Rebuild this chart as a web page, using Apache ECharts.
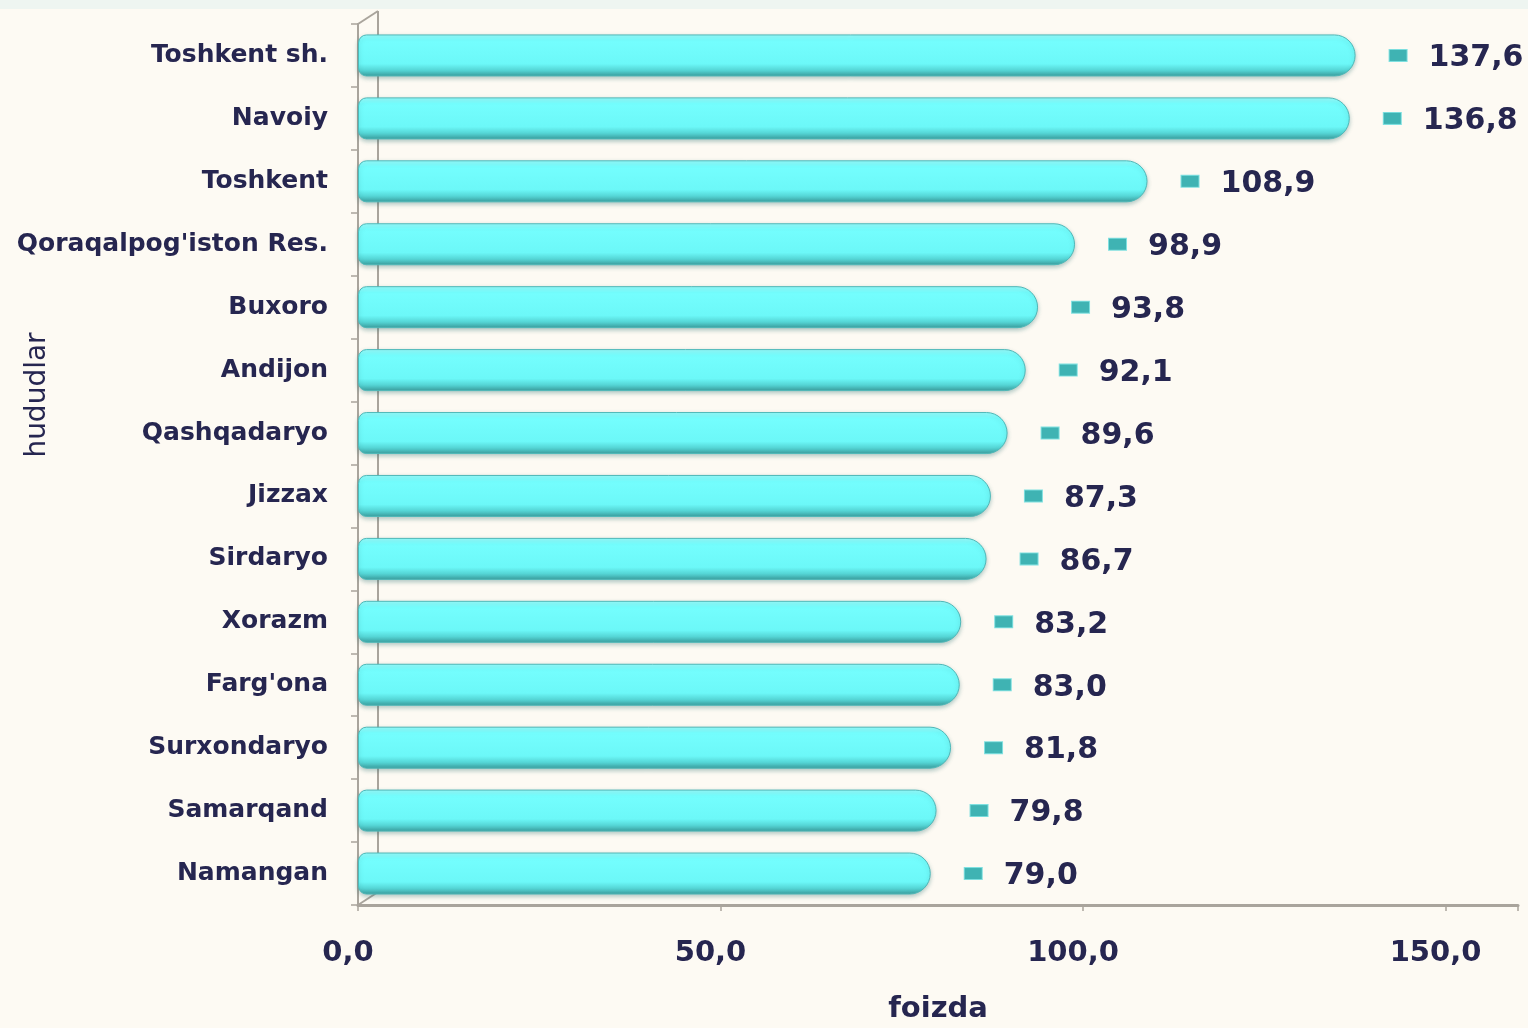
<!DOCTYPE html>
<html>
<head>
<meta charset="utf-8">
<script src="https://cdn.jsdelivr.net/npm/echarts@6/dist/echarts.min.js"></script>
<style>
html,body{margin:0;padding:0;background:#fdfaf3;}
#c{width:1528px;height:1028px;}
</style>
</head>
<body>
<div id="c"></div>
<script>
const categories = ["Toshkent sh.", "Navoiy", "Toshkent", "Qoraqalpog'iston Res.", "Buxoro", "Andijon", "Qashqadaryo", "Jizzax", "Sirdaryo", "Xorazm", "Farg'ona", "Surxondaryo", "Samarqand", "Namangan"];
const values = [137.6, 136.8, 108.9, 98.9, 93.8, 92.1, 89.6, 87.3, 86.7, 83.2, 83.0, 81.8, 79.8, 79.0];
const xTicks = [0, 50, 100, 150];
const xAxisName = "foizda";
const yAxisName = "hududlar";

const fmt = v => v.toFixed(1).replace('.', ',');
const navy = '#262650';
const axisGray = '#a9a49c';
const GRID_TOP = 24, GRID_BOTTOM = 123, H = 1028;

const chart = echarts.init(document.getElementById('c'));
chart.setOption({
  backgroundColor: '#fdfaf3',
  animation: false,
  grid: { left: 358, right: 10, top: GRID_TOP, bottom: GRID_BOTTOM, containLabel: false, outerBoundsMode: 'none' },
  xAxis: {
    type: 'value', min: 0, max: 160, interval: 50,
    name: xAxisName, nameLocation: 'middle', nameGap: 90,
    nameTextStyle: { fontFamily: 'DejaVu Sans', fontWeight: 'bold', fontSize: 29, color: navy },
    axisLine: { show: true, lineStyle: { color: axisGray, width: 3 } },
    axisTick: { show: true, length: 6, lineStyle: { color: axisGray, width: 1.5 } },
    splitLine: { show: false },
    axisLabel: {
      margin: 34, fontFamily: 'DejaVu Sans', fontWeight: 'bold', fontSize: 29, color: navy,
      padding: [0, 20, 0, 0],
      formatter: v => xTicks.indexOf(v) >= 0 ? fmt(v) : ''
    }
  },
  yAxis: {
    type: 'category', data: categories, inverse: true,
    axisLine: { show: true, lineStyle: { color: axisGray, width: 2 } },
    axisTick: { show: true, length: 7, lineStyle: { color: axisGray, width: 1.5 } },
    axisLabel: { margin: 30, fontFamily: 'DejaVu Sans', fontWeight: 'bold', fontSize: 25, color: navy, padding: [10, 0, 0, 0] }
  },
  series: [{
    type: 'bar', data: values, barWidth: 42, z: 3,
    itemStyle: {
      borderRadius: [8, 21, 21, 8],
      borderColor: '#4fb8b8', borderWidth: 1,
      color: new echarts.graphic.LinearGradient(0, 0, 0, 1, [
        { offset: 0, color: '#9afefe' },
        { offset: 0.15, color: '#74fefe' },
        { offset: 0.7, color: '#6cf8f8' },
        { offset: 0.85, color: '#55d6d6' },
        { offset: 1, color: '#3a9c9c' }
      ]),
      shadowColor: 'rgba(40,110,110,0.35)', shadowBlur: 4, shadowOffsetY: 2
    },
    label: {
      show: true, position: 'right', distance: 34,
      formatter: p => '{i|}{s|}{v|' + fmt(p.value) + '}',
      rich: {
        i: { width: 17, height: 11, backgroundColor: '#3fb3b3', borderColor: '#7fe0e0', borderWidth: 1 },
        s: { width: 22 },
        v: { fontFamily: 'DejaVu Sans', fontWeight: 'bold', fontSize: 30, color: navy, padding: [6, 0, 0, 0] }
      }
    }
  }]
});

// 3D wall decoration derived from the axis scale
const x0 = chart.convertToPixel({ xAxisIndex: 0 }, 0);
const yTop = GRID_TOP, yBot = H - GRID_BOTTOM, d = 20, dy = 13;
chart.setOption({
  graphic: [
    { type: 'rect', z: 0, silent: true, shape: { x: 0, y: 0, width: 1528, height: 9 }, style: { fill: '#eef5f1' } },
    { type: 'line', z: 1, silent: true, shape: { x1: x0 + d, y1: yTop - dy, x2: x0 + d, y2: yBot - dy }, style: { stroke: axisGray, lineWidth: 2 } },
    { type: 'line', z: 1, silent: true, shape: { x1: x0, y1: yTop, x2: x0 + d, y2: yTop - dy }, style: { stroke: axisGray, lineWidth: 2 } },
    { type: 'line', z: 1, silent: true, shape: { x1: x0, y1: yBot, x2: x0 + d, y2: yBot - dy }, style: { stroke: axisGray, lineWidth: 2 } },
    { type: 'text', z: 5, silent: true, x: 38, y: 395, rotation: Math.PI / 2,
      style: { text: yAxisName, fontFamily: 'DejaVu Sans', fontSize: 28, fill: navy, align: 'center', verticalAlign: 'middle' } }
  ]
});
</script>
</body>
</html>
